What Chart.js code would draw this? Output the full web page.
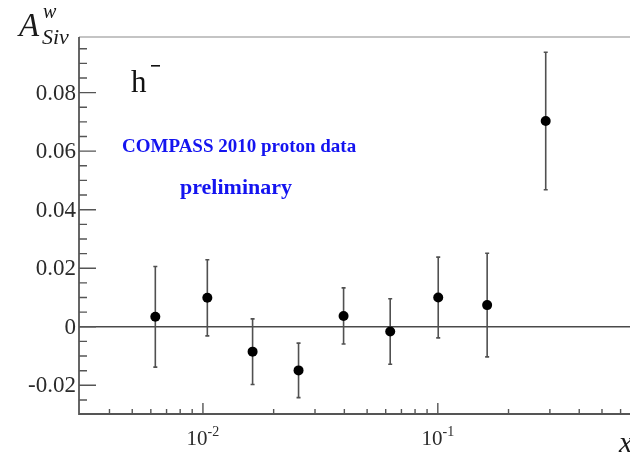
<!DOCTYPE html>
<html>
<head>
<meta charset="utf-8">
<script src="https://cdn.jsdelivr.net/npm/chart.js@4/dist/chart.umd.min.js"></script>
<style>
  html, body { margin: 0; padding: 0; background: #fff; overflow: hidden; }
  #c { display: block; }
</style>
</head>
<body>
<canvas id="c" width="630" height="452"></canvas>
<script>
// Sivers asymmetry for negative hadrons, binned in x
const xBins   = [0.00627, 0.01044, 0.01627, 0.02553, 0.0397, 0.0627, 0.1004, 0.1622, 0.288];
const asym    = [0.0034, 0.0099, -0.0085, -0.0149, 0.0037, -0.0016, 0.0100, 0.0074, 0.0703];
const asymErr = [0.0172, 0.0130, 0.0112, 0.0093, 0.0096, 0.0112, 0.0138, 0.0177, 0.0235];

// Axis ticks and labels
const yMajorTicks  = [-0.02, 0, 0.02, 0.04, 0.06, 0.08];
const yMajorLabels = ['-0.02', '0', '0.02', '0.04', '0.06', '0.08'];
const yMinorStep   = 0.005;
const xMajorTicks  = [0.01, 0.1];
const xMajorBase   = ['10', '10'];
const xMajorExp    = ['-2', '-1'];

const X_MIN = 0.002967, X_MAX = 0.658;
const Y_MIN = -0.0298, Y_MAX = 0.0990;

const SERIF = '"Liberation Serif", "DejaVu Serif", serif';
const AXIS_COLOR = '#555';
const TEXT_COLOR = '#2b2b2b';
const BLUE = '#1414f0';

const framePlugin = {
  id: 'frame',
  beforeDraw(chart) {
    const ctx = chart.ctx;
    ctx.save();
    ctx.fillStyle = '#fff';
    ctx.fillRect(0, 0, chart.width, chart.height);
    ctx.restore();
  },
  beforeDatasetsDraw(chart) {
    const ctx = chart.ctx;
    const a = chart.chartArea;
    const xs = chart.scales.x, ys = chart.scales.y;
    ctx.save();

    // zero line
    const y0 = ys.getPixelForValue(0);
    ctx.strokeStyle = '#4a4a4a';
    ctx.lineWidth = 1.3;
    ctx.beginPath();
    ctx.moveTo(a.left, y0);
    ctx.lineTo(a.right, y0);
    ctx.stroke();

    // error bars
    ctx.strokeStyle = '#505050';
    ctx.lineWidth = 1.6;
    for (let i = 0; i < xBins.length; i++) {
      const px = xs.getPixelForValue(xBins[i]);
      const pTop = ys.getPixelForValue(asym[i] + asymErr[i]);
      const pBot = ys.getPixelForValue(asym[i] - asymErr[i]);
      ctx.beginPath();
      ctx.moveTo(px, pTop);
      ctx.lineTo(px, pBot);
      ctx.moveTo(px - 2, pTop);
      ctx.lineTo(px + 2, pTop);
      ctx.moveTo(px - 2, pBot);
      ctx.lineTo(px + 2, pBot);
      ctx.stroke();
    }
    ctx.restore();
  },
  afterDraw(chart) {
    const ctx = chart.ctx;
    const a = chart.chartArea;
    const xs = chart.scales.x, ys = chart.scales.y;
    ctx.save();

    // top frame line
    ctx.strokeStyle = '#c4c4c4';
    ctx.lineWidth = 2;
    ctx.beginPath();
    ctx.moveTo(a.left, a.top);
    ctx.lineTo(a.right, a.top);
    ctx.stroke();

    // left and bottom axes
    ctx.strokeStyle = AXIS_COLOR;
    ctx.lineWidth = 1.8;
    ctx.beginPath();
    ctx.moveTo(a.left, a.top);
    ctx.lineTo(a.left, a.bottom);
    ctx.lineTo(a.right, a.bottom);
    ctx.stroke();

    // y ticks (inward)
    ctx.lineWidth = 1.4;
    ctx.beginPath();
    for (let v = Math.ceil(Y_MIN / yMinorStep) * yMinorStep; v <= Y_MAX; v += yMinorStep) {
      const isMajor = yMajorTicks.some(t => Math.abs(t - v) < 1e-9);
      const py = ys.getPixelForValue(v);
      if (py > a.bottom - 1) continue;
      ctx.moveTo(a.left, py);
      ctx.lineTo(a.left + (isMajor ? 17 : 8), py);
    }
    // x ticks (inward)
    for (let d = -3; d <= 0; d++) {
      for (let m = 1; m <= 9; m++) {
        const v = m * Math.pow(10, d);
        if (v <= X_MIN * 1.02 || v >= X_MAX) continue;
        const px = xs.getPixelForValue(v);
        ctx.moveTo(px, a.bottom);
        ctx.lineTo(px, a.bottom - (m === 1 ? 11 : 5));
      }
    }
    ctx.stroke();

    // y tick labels
    ctx.fillStyle = TEXT_COLOR;
    ctx.font = '23px ' + SERIF;
    ctx.textAlign = 'right';
    ctx.textBaseline = 'middle';
    yMajorTicks.forEach((v, i) => {
      ctx.fillText(yMajorLabels[i], a.left - 3, ys.getPixelForValue(v) + 1);
    });

    // x tick labels with exponents
    ctx.textBaseline = 'alphabetic';
    ctx.textAlign = 'left';
    xMajorTicks.forEach((v, i) => {
      const px = xs.getPixelForValue(v);
      ctx.font = '21px ' + SERIF;
      const wb = ctx.measureText(xMajorBase[i]).width;
      ctx.font = '14px ' + SERIF;
      const we = ctx.measureText(xMajorExp[i]).width;
      const x0 = px - (wb + we) / 2;
      ctx.font = '21px ' + SERIF;
      ctx.fillText(xMajorBase[i], x0, 445);
      ctx.font = '14px ' + SERIF;
      ctx.fillText(xMajorExp[i], x0 + wb, 436);
    });

    // axis titles
    ctx.fillStyle = '#1a1a1a';
    ctx.font = 'italic 33px ' + SERIF;
    ctx.fillText('A', 19, 36);
    ctx.font = 'italic 20px ' + SERIF;
    ctx.fillText('w', 43, 18);
    ctx.font = 'italic 22px ' + SERIF;
    ctx.fillText('Siv', 42, 44);
    ctx.font = 'italic 30px ' + SERIF;
    ctx.fillText('x', 619, 452);

    // hadron charge label
    ctx.fillStyle = '#111';
    ctx.font = '31px ' + SERIF;
    ctx.fillText('h', 131, 92);
    ctx.fillRect(151, 65, 9, 1.6);

    // experiment labels
    ctx.fillStyle = BLUE;
    ctx.font = 'bold 19px ' + SERIF;
    ctx.fillText('COMPASS 2010 proton data', 122, 152);
    ctx.font = 'bold 22px ' + SERIF;
    ctx.fillText('preliminary', 180, 194);

    ctx.restore();
  }
};

new Chart(document.getElementById('c'), {
  type: 'scatter',
  data: {
    datasets: [{
      data: xBins.map((x, i) => ({ x: x, y: asym[i] })),
      pointRadius: 5,
      pointHoverRadius: 5,
      backgroundColor: '#000',
      borderColor: '#000',
      borderWidth: 0
    }]
  },
  options: {
    responsive: false,
    devicePixelRatio: 1,
    animation: false,
    events: [],
    layout: { autoPadding: false, padding: { left: 79, top: 37, right: 0, bottom: 38 } },
    plugins: { legend: { display: false }, tooltip: { enabled: false } },
    scales: {
      x: { type: 'logarithmic', min: X_MIN, max: X_MAX, display: false },
      y: { type: 'linear', min: Y_MIN, max: Y_MAX, display: false }
    }
  },
  plugins: [framePlugin]
});
</script>
</body>
</html>
